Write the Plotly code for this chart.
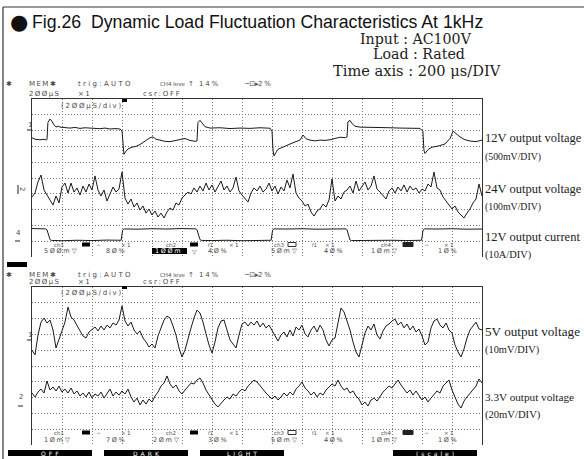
import plotly.graph_objects as go

# ---------------- data (time in microseconds, amplitude in screen divisions) ----------------
t_ch1_12v = [0, 20, 53, 80, 96, 100, 106, 120, 133, 147, 160, 173, 187, 220, 253, 287, 320, 353, 387, 420,
             453, 487, 520, 553, 587, 600, 607, 613, 627, 640, 667, 693, 720, 753, 787, 807, 827, 853, 887,
             920, 953, 987, 1020, 1053, 1087, 1100, 1106, 1120, 1133, 1153, 1187, 1253, 1320, 1387, 1453,
             1520, 1587, 1600, 1607, 1613, 1627, 1640, 1667, 1693, 1720, 1753, 1787, 1807, 1827, 1853, 1887,
             1920, 1953, 1987, 2020, 2053, 2090, 2100, 2106, 2120, 2133, 2153, 2187, 2253, 2320, 2387, 2453,
             2520, 2587, 2606, 2613, 2620, 2640, 2667, 2707, 2753, 2787, 2807, 2827, 2853, 2887, 2920, 2960, 3000]
v_ch1_12v = [7.55, 7.45, 7.42, 7.45, 7.40, 7.45, 8.50, 8.73, 8.60, 8.35, 8.22, 8.28, 8.22, 8.20, 8.16, 8.20,
             8.14, 8.18, 8.16, 8.15, 8.12, 8.16, 8.10, 8.13, 8.10, 7.97, 6.75, 6.50, 6.70, 6.84, 6.95, 7.00,
             7.12, 7.32, 7.55, 7.60, 7.45, 7.40, 7.32, 7.30, 7.36, 7.45, 7.50, 7.38, 7.32, 7.35, 8.50, 8.65,
             8.48, 8.25, 8.16, 8.18, 8.13, 8.16, 8.14, 8.18, 8.15, 7.95, 6.75, 6.40, 6.62, 6.82, 6.93, 7.02,
             7.15, 7.28, 7.40, 7.72, 7.48, 7.40, 7.35, 7.40, 7.38, 7.42, 7.50, 7.58, 7.55, 7.60, 8.55, 8.65,
             8.45, 8.28, 8.22, 8.22, 8.20, 8.18, 8.16, 8.16, 8.14, 7.95, 6.75, 6.55, 6.80, 6.95, 7.02, 7.15,
             7.50, 7.97, 7.80, 7.60, 7.42, 7.34, 7.30, 7.40]

t_ch4_12a = [0, 60, 90, 100, 120, 130, 200, 300, 400, 500, 594, 604, 614, 700, 800, 900, 1000, 1094, 1100,
             1120, 1130, 1200, 1300, 1400, 1500, 1594, 1604, 1614, 1700, 1800, 1900, 2000, 2094, 2100, 2120,
             2130, 2200, 2300, 2400, 2500, 2597, 2607, 2617, 2700, 2800, 2900, 3000]
v_ch4_12a = [1.80, 1.77, 1.78, 1.72, 1.10, 1.05, 1.03, 1.06, 1.04, 1.07, 1.06, 1.70, 1.78, 1.76, 1.79, 1.77,
             1.80, 1.78, 1.72, 1.10, 1.05, 1.04, 1.06, 1.03, 1.05, 1.06, 1.70, 1.78, 1.77, 1.79, 1.76, 1.78,
             1.78, 1.72, 1.08, 1.04, 1.05, 1.03, 1.06, 1.04, 1.06, 1.70, 1.78, 1.77, 1.79, 1.76, 1.77]

# sampled traces: one sample every 20 us
t_sampled = [20 * k for k in range(151)]
v_ch2_24v = [3.80, 4.05, 4.75, 5.19, 4.24, 3.92, 3.61, 3.29, 3.86, 3.42, 4.43, 4.68, 4.05, 4.68, 4.11, 4.37,
             3.92, 4.49, 4.11, 4.62, 4.24, 5.13, 4.24, 3.86, 4.24, 3.54, 3.99, 4.43, 4.11, 4.30, 5.38, 3.73,
             3.35, 3.67, 3.16, 3.42, 2.97, 3.23, 2.78, 3.04, 2.66, 2.91, 2.53, 2.78, 2.47, 2.85, 3.10, 2.97,
             3.42, 3.29, 3.73, 3.92, 4.11, 3.99, 4.37, 4.11, 4.49, 4.18, 4.68, 4.24, 4.56, 4.11, 4.43, 4.81,
             4.24, 4.49, 4.11, 4.37, 5.06, 4.18, 3.92, 3.67, 3.48, 4.05, 4.37, 4.18, 4.49, 4.11, 4.30, 4.68,
             4.18, 4.49, 3.99, 4.43, 4.18, 4.87, 4.37, 5.25, 4.05, 3.73, 3.54, 3.23, 3.35, 2.85, 2.59, 2.91,
             3.04, 3.35, 3.16, 3.61, 4.94, 3.54, 3.86, 3.67, 4.11, 4.24, 4.49, 4.05, 4.81, 4.18, 4.43, 4.75,
             4.24, 4.49, 5.13, 4.30, 4.11, 3.86, 3.67, 4.18, 4.37, 4.05, 4.43, 4.18, 4.56, 4.11, 4.49, 4.24,
             4.37, 4.05, 4.30, 4.18, 4.62, 4.43, 5.38, 4.37, 4.24, 3.80, 3.54, 3.29, 3.04, 3.23, 2.85, 2.66,
             2.47, 2.78, 3.04, 3.42, 3.67, 4.62, 3.86]
v_ch1_5v = [6.01, 5.70, 6.96, 7.78, 8.04, 7.72, 7.91, 7.28, 6.14, 6.65, 7.28, 7.78, 8.73, 8.10, 7.91, 7.53,
            7.22, 6.90, 6.77, 7.15, 7.34, 7.47, 7.22, 7.53, 7.28, 7.59, 7.41, 7.72, 7.59, 7.91, 8.80, 7.85,
            7.53, 7.78, 7.28, 7.03, 7.22, 6.77, 6.52, 6.20, 6.39, 6.14, 6.90, 7.47, 7.91, 8.16, 8.04, 7.53,
            6.96, 6.14, 5.57, 6.01, 6.77, 7.41, 8.04, 8.54, 8.35, 7.78, 7.03, 6.33, 5.82, 6.52, 7.41, 7.85,
            7.91, 7.28, 6.65, 6.39, 6.14, 6.96, 7.66, 7.78, 7.53, 7.78, 7.59, 7.85, 7.47, 7.72, 7.41, 7.59,
            7.28, 6.90, 6.58, 6.96, 7.15, 6.84, 7.28, 6.90, 7.47, 7.28, 7.59, 7.03, 6.84, 7.28, 7.53, 7.15,
            7.59, 7.28, 6.65, 6.27, 6.65, 6.77, 7.78, 8.67, 8.42, 7.91, 7.28, 6.52, 5.89, 5.57, 6.33, 7.09,
            7.53, 7.28, 7.66, 6.96, 6.71, 7.22, 7.53, 7.66, 7.85, 7.97, 7.59, 7.78, 7.41, 7.66, 7.28, 7.53,
            7.15, 7.34, 6.90, 6.33, 6.52, 7.41, 7.85, 7.97, 7.59, 7.41, 7.72, 7.28, 7.09, 6.33, 5.89, 5.57,
            6.08, 6.77, 7.28, 7.53, 7.78, 7.34, 7.28]
v_ch2_3v3 = [3.29, 3.04, 3.35, 3.54, 3.29, 4.05, 3.48, 3.67, 3.42, 3.73, 3.35, 3.54, 3.29, 3.61, 3.23, 3.42,
             3.10, 3.29, 3.04, 3.35, 2.97, 3.23, 3.10, 3.35, 2.97, 3.29, 3.54, 3.10, 3.35, 3.16, 3.42, 3.23,
             3.54, 3.04, 2.72, 2.97, 2.53, 2.85, 2.59, 2.91, 2.72, 3.10, 3.35, 3.73, 3.92, 4.37, 3.86, 3.61,
             3.80, 3.42, 3.23, 3.48, 3.73, 3.92, 3.86, 4.11, 4.24, 3.92, 3.48, 3.16, 2.91, 2.59, 2.41, 2.66,
             2.85, 3.04, 2.91, 3.23, 3.10, 3.35, 3.54, 3.42, 3.73, 3.92, 4.11, 3.99, 3.73, 3.48, 3.29, 3.10,
             2.91, 3.10, 2.85, 3.04, 3.29, 3.10, 3.35, 3.16, 3.54, 3.73, 3.99, 3.61, 3.42, 3.16, 3.35, 3.04,
             3.29, 3.16, 3.48, 3.67, 3.86, 3.73, 4.11, 3.73, 3.48, 3.61, 3.29, 3.42, 3.10, 2.91, 2.53, 2.72,
             2.47, 2.85, 2.97, 2.78, 3.10, 3.35, 3.54, 3.73, 3.61, 3.86, 4.11, 3.80, 3.54, 3.29, 3.48, 3.16,
             3.42, 3.10, 2.85, 3.04, 2.72, 2.97, 3.23, 3.42, 3.29, 3.73, 3.92, 4.11, 3.48, 2.97, 2.59, 2.34,
             2.78, 3.04, 3.29, 3.54, 3.73, 4.18, 3.92]

grid_t = list(range(200, 3000, 200))
grid_v = list(range(1, 10))

right_labels_top = [("12V output voltage", 12.5, 138), ("(500mV/DIV)", 9.8, 157),
                    ("24V output voltage", 12.5, 189), ("(100mV/DIV)", 9.8, 207),
                    ("12V output current", 12.5, 237), ("(10A/DIV)", 10.4, 255)]
right_labels_bot = [("5V output voltage", 13.2, 331), ("(10mV/DIV)", 10.4, 350),
                    ("3.3V output voltage", 11.2, 397), ("(20mV/DIV)", 10.6, 415)]
conditions = ["Input : AC100V", "Load : Rated", "Time axis : 200 \u03bcs/DIV"]

# ---------------- layout helpers ----------------
W, H = 584, 459
def X(p): return p / W
def Y(p): return 1 - p / H

SCOPE = "DejaVu Sans"
SC = "#4a4a4a"
SERIF = "Liberation Serif, Times New Roman, serif"
HSERIF = "DejaVu Serif, serif"

fig = go.Figure()

def T(x, y, s, size=7, color=SC, fam=SCOPE, anchor="left", angle=0, bg=None):
    fig.add_annotation(x=X(x), y=Y(y), xref="paper", yref="paper", text=s, showarrow=False,
                       xanchor=anchor, yanchor="middle", textangle=angle, borderpad=0,
                       bgcolor=bg, font=dict(size=size, color=color, family=fam))

shapes = []
def R(x0, y0, x1, y1, fill="black", lc=None):
    shapes.append(dict(type="rect", xref="paper", yref="paper", x0=X(x0), x1=X(x1), y0=Y(y0), y1=Y(y1),
                       fillcolor=fill, line=dict(width=1 if lc else 0, color=lc or fill)))
def L(x0, y0, x1, y1, w=1, c="#222"):
    shapes.append(dict(type="line", xref="paper", yref="paper", x0=X(x0), x1=X(x1), y0=Y(y0), y1=Y(y1),
                       line=dict(width=w, color=c)))

def sp(s, gap="\u2009"):
    return gap.join(s)

# ---------------- axes ----------------
def xax(dom):
    return dict(domain=dom, range=[0, 3000], tickvals=grid_t, showgrid=True, gridcolor="#7a7a7a",
                griddash="1px,2px", gridwidth=1, showticklabels=False, ticks="", zeroline=False,
                showline=True, linecolor="#333", linewidth=1, side="top", mirror=False, fixedrange=True)
def yax(dom):
    return dict(domain=dom, range=[0, 10], tickvals=grid_v, showgrid=True, gridcolor="#7a7a7a",
                griddash="1px,2px", gridwidth=1, showticklabels=False, ticks="", zeroline=False,
                showline=True, linecolor="#333", linewidth=1, mirror=True, fixedrange=True)

PL, PR = 32, 482
fig.update_layout(
    width=W, height=H, margin=dict(l=0, r=0, t=0, b=0), paper_bgcolor="white", plot_bgcolor="white",
    showlegend=False,
    xaxis=dict(xax([X(PL), X(PR)]), anchor="y"),
    yaxis=dict(yax([Y(257), Y(99)]), anchor="x"),
    xaxis2=dict(xax([X(PL), X(PR)]), anchor="y2"),
    yaxis2=dict(yax([Y(445), Y(287)]), anchor="x2"),
)

tr = dict(mode="lines", hoverinfo="skip", showlegend=False)
fig.add_trace(go.Scatter(x=t_ch1_12v, y=v_ch1_12v, line=dict(color="#1a1a1a", width=1), xaxis="x", yaxis="y", **tr))
fig.add_trace(go.Scatter(x=t_sampled, y=v_ch2_24v, line=dict(color="#1a1a1a", width=1), xaxis="x", yaxis="y", **tr))
fig.add_trace(go.Scatter(x=t_ch4_12a, y=v_ch4_12a, line=dict(color="#1a1a1a", width=1), xaxis="x", yaxis="y", **tr))
fig.add_trace(go.Scatter(x=t_sampled, y=v_ch1_5v, line=dict(color="#1a1a1a", width=1), xaxis="x2", yaxis="y2", **tr))
fig.add_trace(go.Scatter(x=t_sampled, y=v_ch2_3v3, line=dict(color="#1a1a1a", width=1), xaxis="x2", yaxis="y2", **tr))

# ---------------- outer frame, title, conditions ----------------
L(3, 7, 584, 7, 1.2, "#333")
L(3, 7, 3, 459, 1.2, "#333")
T(19, 22, "●", size=21, color="#111", fam="DejaVu Sans", anchor="center")
T(31, 22, "Fig.26  Dynamic Load Fluctuation Characteristics At 1kHz", size=17.7, color="#111",
  fam="Liberation Sans, Arial, sans-serif")
for s, (xx, yy, fs) in zip(conditions, [(416, 39, 14.2), (419, 54.5, 14.2), (417, 70.5, 14.6)]):
    T(xx, yy, s, size=fs, color="#222", fam=HSERIF, anchor="center")

# ---------------- scope screen texts ----------------
def header(y1, y2):
    T(5, y1, "\u2731", size=7)
    T(28, y1, sp("MEM"), size=7)
    T(49, y1, "\u2731", size=7)
    T(77, y1, sp("trig:AUTO", "\u2004"), size=7)
    T(159, y1, "CH4 leve", size=5.5)
    T(187, y1, "\u2191", size=7)
    T(198, y1, sp("14%", "\u2005"), size=7)
    T(243, y1, "\u2500\u22a1\u25b8", size=7)
    T(257, y1, sp("2%", "\u2005"), size=7)
    T(28, y2, sp("2\u00d8\u00d8\u00b5S", "\u2009"), size=7)
    T(77, y2, sp("\u00d71", "\u2009"), size=7)
    T(142, y2, sp("csr:OFF", "\u2005"), size=7)

def chrows(y1, y2, vals, inv2):
    T(53, y1, "ch1", size=5.5); R(82, y1 - 2, 90, y1 + 2)
    T(95, y1, "\u2500", size=5.5); T(120, y1, sp("\u00d71", "\u2005"), size=5.5)
    T(165, y1, "ch2", size=5.5); R(190, y1 - 2, 198, y1 + 2)
    T(207, y1, "f1", size=5); T(228, y1, sp("\u00d71", "\u2005"), size=5.5)
    T(273, y1, "ch3", size=5.5); R(288, y1 - 2, 296, y1 + 2, "white", "#333")
    T(311, y1, "f1", size=5); T(324, y1, sp("\u00d71", "\u2005"), size=5.5)
    T(380, y1, "ch4", size=5.5); R(403, y1 - 2, 413, y1 + 2, "#222", "#222")
    T(423, y1, "\u2500", size=5.5); T(443, y1, sp("\u00d71", "\u2005"), size=5.5)
    xs = [43, 105, 152, 207, 270, 323, 370, 437]
    tri = [True, False, True, False, True, False, True, False]
    for i, (xx, s) in enumerate(zip(xs, vals)):
        if i == 2 and inv2:
            R(xx, y2 - 3, xx + 35, y2 + 3)
            T(xx + 2, y2, sp(s, "\u2005"), size=6.5, color="white")
            T(xx + 39, y2, "\u25bd", size=6)
        else:
            txt = sp(s, "\u2005") + ("\u2004\u25bd" if tri[i] else "")
            T(xx, y2, txt, size=6.5)

header(84, 94.5)
header(275, 282)
for yy in (106, 293):
    T(60, yy, sp("(2\u00d8\u00d8\u00b5S/div)", "\u2005"), size=7)
    R(122, yy - 7, 127, yy - 4)
chrows(244.5, 251, ["5\u00d8\u00d8m", "8\u00d8%", "1\u00d8\u00d8m", "4\u00d8%", "5\u00d8m", "4\u00d8%", "1\u00d8m", "1\u00d8%"], True)
chrows(432.5, 440, ["1\u00d8m", "7\u00d8%", "2\u00d8m", "3\u00d8%", "5\u00d8m", "4\u00d8%", "1\u00d8m", "1\u00d8%"], False)

# channel ground markers
T(27, 125, "1", size=7); L(27, 130, 32, 130)
T(22, 189, "2", size=7, angle=90, anchor="center"); L(18, 185, 18, 194)
T(15, 233, "4", size=7); L(15, 241, 20, 241)
T(27, 335, "1", size=7); L(27, 340, 32, 340)
T(18, 397, "2", size=7); L(18, 406, 23, 406)

# black marker between screens and soft keys
R(7, 262, 27, 267)
for x0, x1, s in [(8, 92, "OFF"), (104, 188, "DARK"), (200, 284, "LIGHT"), (393, 477, "(scale)")]:
    R(x0, 450, x1, 456)
    T((x0 + x1) / 2, 453, sp(s, "\u2002"), size=6, color="white", anchor="center")

# right-hand channel labels
for s, size, yy in right_labels_top + right_labels_bot:
    T(484, yy, s, size=size, color="#222", fam=SERIF)

fig.update_layout(shapes=shapes)
fig.write_html("out.html", config={"displayModeBar": False},
               post_script="document.body.style.margin='0px';document.body.style.padding='0px';"
                           "document.documentElement.style.overflow='hidden';")
